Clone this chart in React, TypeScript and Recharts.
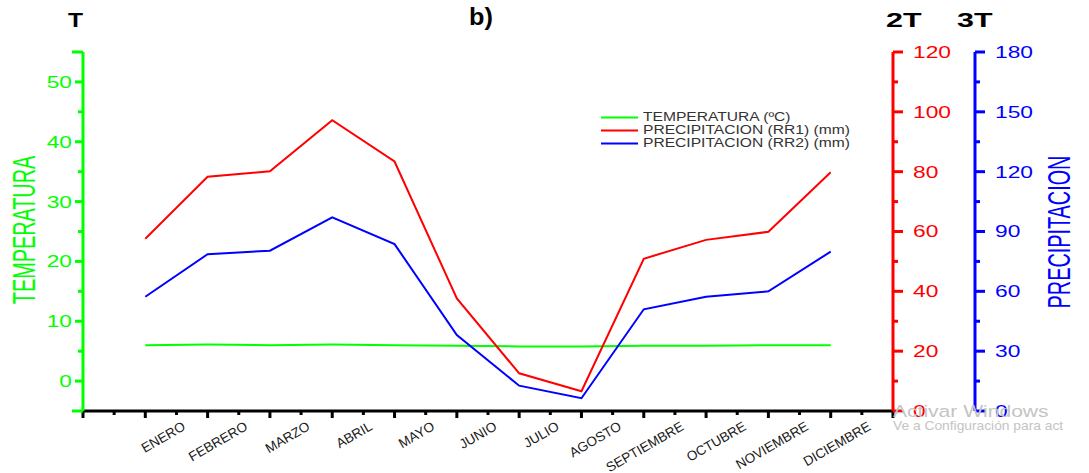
import React from "react";
import { LineChart, Line, XAxis, YAxis, Legend } from "recharts";

const months = [
  "ENERO", "FEBRERO", "MARZO", "ABRIL", "MAYO", "JUNIO",
  "JULIO", "AGOSTO", "SEPTIEMBRE", "OCTUBRE", "NOVIEMBRE", "DICIEMBRE",
];
const temperatura = [6.0, 6.1, 6.0, 6.1, 6.0, 5.9, 5.8, 5.8, 5.9, 5.9, 6.0, 6.0];
const rr1 = [57.6, 78.3, 80.1, 97.2, 83.4, 37.6, 12.6, 6.6, 50.9, 57.2, 59.9, 79.8];
const rr2 = [57.3, 78.6, 80.4, 97.1, 83.7, 38.1, 12.7, 6.4, 51.0, 57.3, 60.0, 79.9];

const seriesNames = ["TEMPERATURA (ºC)", "PRECIPITACION (RR1) (mm)", "PRECIPITACION (RR2) (mm)"];

const tempTicks = [-5, 0, 5, 10, 15, 20, 25, 30, 35, 40, 45, 50, 55];
const rr1Ticks = [0, 10, 20, 30, 40, 50, 60, 70, 80, 90, 100, 110, 120];
const rr2Ticks = [0, 15, 30, 45, 60, 75, 90, 105, 120, 135, 150, 165, 180];
const monthTicks = Array.from({ length: 27 }, (_, i) => i / 2);

const data = months.map((m, i) => ({
  pos: i + 1,
  mes: m,
  temperatura: temperatura[i],
  rr1: rr1[i],
  rr2: rr2[i],
}));

const GREEN = "#00ff00";
const RED = "#ff0000";
const BLUE = "#0000ff";
const FONT = '"Liberation Sans", Arial, sans-serif';

const LeftTick = (props: any) => {
  const { x, y, payload } = props;
  const v = payload.value;
  const labeled = v % 10 === 0;
  const edge = v === -5 || v === 55;
  const len = edge ? 11 : labeled ? 8 : 5;
  return (
    <g>
      <line x1={x - len} x2={x} y1={y} y2={y} stroke={GREEN} strokeWidth={3} />
      {labeled && (
        <text
          transform={`translate(${x - 11},${y}) scale(1.38,1)`}
          textAnchor="end"
          dy="0.36em"
          fill={GREEN}
          fontSize={16.5}
          fontFamily={FONT}
        >
          {v}
        </text>
      )}
    </g>
  );
};

const makeRightTick = (color: string, every: number) => (props: any) => {
  const { x, y, payload } = props;
  const v = payload.value;
  const labeled = v % every === 0;
  return (
    <g>
      <line x1={x} x2={x + (labeled ? 10 : 5)} y1={y} y2={y} stroke={color} strokeWidth={3} />
      {labeled && (
        <text
          transform={`translate(${x + 20},${y}) scale(1.38,1)`}
          textAnchor="start"
          dy="0.36em"
          fill={color}
          fontSize={16.5}
          fontFamily={FONT}
        >
          {v}
        </text>
      )}
    </g>
  );
};

const RedTick = makeRightTick(RED, 20);
const BlueTick = makeRightTick(BLUE, 30);

const XTick = (props: any) => {
  const { x, y, payload } = props;
  const v = payload.value;
  const major = Number.isInteger(v);
  const label = major && v >= 1 && v <= 12 ? months[v - 1] : null;
  return (
    <g>
      <line x1={x} x2={x} y1={y} y2={y + (major ? 7 : 4)} stroke="#000" strokeWidth={3} />
      {label && (
        <text
          transform={`translate(${x + 41},${y + 18}) rotate(-30)`}
          textAnchor="end"
          fontSize={13.5}
          fill="#1a1a1a"
          fontFamily={FONT}
        >
          {label}
        </text>
      )}
    </g>
  );
};

const tempLabel = () => (
  <text
    transform="translate(23,230) rotate(-90) scale(0.62,1)"
    textAnchor="middle"
    dy="0.36em"
    fill={GREEN}
    fontSize={32}
    fontFamily={FONT}
  >
    TEMPERATURA
  </text>
);

const precLabel = () => (
  <text
    transform="translate(1058,232) rotate(-90) scale(0.62,1)"
    textAnchor="middle"
    dy="0.36em"
    fill={BLUE}
    fontSize={32}
    fontFamily={FONT}
  >
    PRECIPITACION
  </text>
);

const renderLegend = (props: any) => {
  const items = [...(props.payload || [])].sort(
    (a: any, b: any) => seriesNames.indexOf(a.value) - seriesNames.indexOf(b.value)
  );
  return (
    <div style={{ fontFamily: FONT }}>
      {items.map((e: any) => (
        <div key={e.value} style={{ display: "flex", alignItems: "center", height: 13 }}>
          <svg width={37} height={13}>
            <line x1={0} x2={37} y1={6.5} y2={6.5} stroke={e.color} strokeWidth={2} />
          </svg>
          <span
            style={{
              marginLeft: 5,
              fontSize: 12,
              lineHeight: "13px",
              color: "#333",
              display: "inline-block",
              transform: "scaleX(1.3)",
              transformOrigin: "left center",
              whiteSpace: "nowrap",
            }}
          >
            {e.value}
          </span>
        </div>
      ))}
    </div>
  );
};

export default function App() {
  return (
    <div style={{ position: "absolute", left: 0, top: 0, width: 1089, height: 473, overflow: "hidden", background: "#fff" }}>
      <LineChart width={1089} height={473} data={data} margin={{ top: 52, right: 0, bottom: 2, left: 0 }}>
        <XAxis
          dataKey="pos"
          type="number"
          domain={[0, 13]}
          ticks={monthTicks}
          interval={0}
          height={60}
          tickLine={false}
          tickSize={0}
          tickMargin={0}
          axisLine={{ stroke: "#000", strokeWidth: 3 }}
          tick={XTick}
        />
        <YAxis
          yAxisId="t"
          orientation="left"
          width={83}
          domain={[-5, 55]}
          ticks={tempTicks}
          interval={0}
          tickLine={false}
          tickSize={0}
          tickMargin={0}
          axisLine={{ stroke: GREEN, strokeWidth: 3 }}
          tick={LeftTick}
          label={tempLabel}
        />
        <YAxis
          yAxisId="rr1"
          orientation="right"
          width={82}
          domain={[0, 120]}
          ticks={rr1Ticks}
          interval={0}
          tickLine={false}
          tickSize={0}
          tickMargin={0}
          axisLine={{ stroke: RED, strokeWidth: 3 }}
          tick={RedTick}
        />
        <YAxis
          yAxisId="rr2"
          orientation="right"
          width={114}
          domain={[0, 180]}
          ticks={rr2Ticks}
          interval={0}
          tickLine={false}
          tickSize={0}
          tickMargin={0}
          axisLine={{ stroke: BLUE, strokeWidth: 3 }}
          tick={BlueTick}
          label={precLabel}
        />
        <Legend
          layout="vertical"
          align="center"
          verticalAlign="middle"
          content={renderLegend}
          wrapperStyle={{ position: "absolute", left: 601, top: 111, width: 300, bottom: "auto" }}
        />
        <Line
          yAxisId="t"
          dataKey="temperatura"
          name={seriesNames[0]}
          stroke={GREEN}
          strokeWidth={2}
          dot={false}
          isAnimationActive={false}
        />
        <Line
          yAxisId="rr1"
          dataKey="rr1"
          name={seriesNames[1]}
          stroke={RED}
          strokeWidth={2}
          dot={false}
          isAnimationActive={false}
        />
        <Line
          yAxisId="rr2"
          dataKey="rr2"
          name={seriesNames[2]}
          stroke={BLUE}
          strokeWidth={2}
          dot={false}
          isAnimationActive={false}
        />
      </LineChart>
      <svg
        width={1089}
        height={473}
        style={{ position: "absolute", left: 0, top: 0, pointerEvents: "none" }}
      >
        <g fontFamily={FONT} fontWeight="bold" fill="#000">
          <text transform="translate(68,27) scale(1.17,1)" fontSize={21}>T</text>
          <text transform="translate(469,25) scale(1.1,1)" fontSize={23}>b)</text>
          <text transform="translate(886,27) scale(1.45,1)" fontSize={21}>2T</text>
          <text transform="translate(957,27) scale(1.45,1)" fontSize={21}>3T</text>
        </g>
        <g fontFamily={FONT} fill="#c4c4c4">
          <text transform="translate(893,417) scale(1.24,1)" fontSize={17}>Activar Windows</text>
          <text transform="translate(893,430) scale(1.15,1)" fontSize={12}>Ve a Configuración para act</text>
        </g>
      </svg>
    </div>
  );
}
